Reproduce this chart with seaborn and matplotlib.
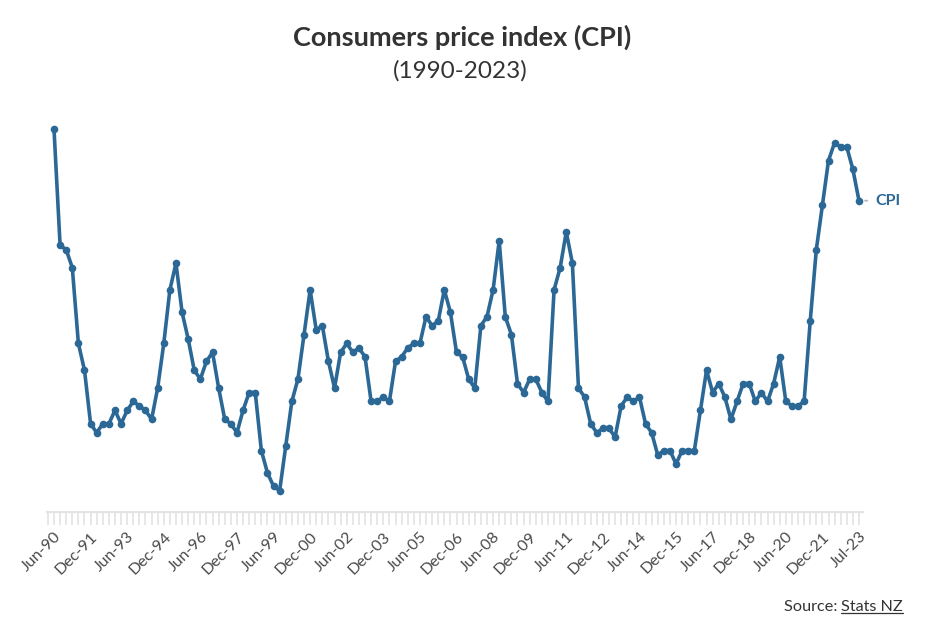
import matplotlib
matplotlib.use("Agg")
import matplotlib.pyplot as plt
from matplotlib.lines import Line2D
from matplotlib.ticker import MultipleLocator, FixedLocator, FixedFormatter
import seaborn as sns
import pandas as pd

# Annual % change in CPI, quarterly, Jun-1990 .. Jun-2023
cpi = [7.6, 5.0, 4.9, 4.5, 2.8, 2.2, 1.0, 0.8, 1.0, 1.0, 1.3, 1.0, 1.3, 1.5, 1.4, 1.3,
       1.1, 1.8, 2.8, 4.0, 4.6, 3.5, 2.9, 2.2, 2.0, 2.4, 2.6, 1.8, 1.1, 1.0, 0.8, 1.3,
       1.7, 1.7, 0.4, -0.1, -0.4, -0.5, 0.5, 1.5, 2.0, 3.0, 4.0, 3.1, 3.2, 2.4, 1.8, 2.6,
       2.8, 2.6, 2.7, 2.5, 1.5, 1.5, 1.6, 1.5, 2.4, 2.5, 2.7, 2.8, 2.8, 3.4, 3.2, 3.3,
       4.0, 3.5, 2.6, 2.5, 2.0, 1.8, 3.2, 3.4, 4.0, 5.1, 3.4, 3.0, 1.9, 1.7, 2.0, 2.0,
       1.7, 1.5, 4.0, 4.5, 5.3, 4.6, 1.8, 1.6, 1.0, 0.8, 0.9, 0.9, 0.7, 1.4, 1.6, 1.5,
       1.6, 1.0, 0.8, 0.3, 0.4, 0.4, 0.1, 0.4, 0.4, 0.4, 1.3, 2.2, 1.7, 1.9, 1.6, 1.1,
       1.5, 1.9, 1.9, 1.5, 1.7, 1.5, 1.9, 2.5, 1.5, 1.4, 1.4, 1.5, 3.3, 4.9, 5.9, 6.9,
       7.3, 7.2, 7.2, 6.7, 6.0]

tick_labels = ["Jun-90", "Dec-91", "Jun-93", "Dec-94", "Jun-96", "Dec-97", "Jun-99",
               "Dec-00", "Jun-02", "Dec-03", "Jun-05", "Dec-06", "Jun-08", "Dec-09",
               "Jun-11", "Dec-12", "Jun-14", "Dec-15", "Jun-17", "Dec-18", "Jun-20",
               "Dec-21", "Jul-23"]
tick_step = 6  # one label every six quarters

series_name = "CPI"
title = "Consumers price index (CPI)"
subtitle = "(1990-2023)"

BLUE = "#2b6896"
TEXT = "#333333"
GRID = "#e3e3e3"

sns.set_theme(style="white")
plt.rcParams["font.family"] = ["Lato", "DejaVu Sans"]

df = pd.DataFrame({"t": range(len(cpi)), series_name: cpi})

fig = plt.figure(figsize=(9.25, 6.33), dpi=100)
ax = fig.add_axes([47 / 925, 1 - 512 / 633, 816 / 925, (512 - 110) / 633])

sns.lineplot(data=df, x="t", y=series_name, ax=ax, color=BLUE, linewidth=2.6,
             marker="o", markersize=5.5, markeredgewidth=0, legend=False)

px_per_q = 805 / (len(cpi) - 1)
ax.set_xlim(-7 / px_per_q, len(cpi) - 1 + 4 / px_per_q)
px_per_unit = 44.62
zero_px = 468.4
ax.set_ylim((zero_px - 512) / px_per_unit, (zero_px - 110) / px_per_unit)

ax.set_xlabel("")
ax.set_ylabel("")
ax.set_yticks([])
for s in ["top", "right", "left"]:
    ax.spines[s].set_visible(False)
ax.spines["bottom"].set_color(GRID)
ax.spines["bottom"].set_linewidth(1.5)

ticks = list(range(0, len(cpi), tick_step))
ax.xaxis.set_major_locator(FixedLocator(ticks))
ax.xaxis.set_major_formatter(FixedFormatter(tick_labels))
ax.xaxis.set_minor_locator(MultipleLocator(1))
ax.tick_params(axis="x", which="both", bottom=True, direction="out", length=9.5,
               width=1.2, color=GRID, pad=3)
ax.tick_params(axis="x", which="major", labelsize=11.5, labelcolor="#4a4a4a")
for lab in ax.get_xticklabels():
    lab.set_rotation(45)
    lab.set_ha("right")
    lab.set_rotation_mode("anchor")

# end label with short connector dash
last_x = len(cpi) - 1
last_y = cpi[-1]
ax.annotate(series_name, xy=(last_x, last_y), xycoords="data",
            xytext=(11.5, 0), textcoords="offset points",
            ha="left", va="center", fontsize=11.5, fontweight="bold", color=BLUE,
            annotation_clip=False,
            arrowprops=dict(arrowstyle="-", color="#b5b5b5", lw=1.3,
                            shrinkA=3.2, shrinkB=4.3, relpos=(0, 0.5)))

fig.text(462 / 925, 1 - 37 / 633, title, ha="center", va="center",
         fontsize=19.5, fontweight="bold", color=TEXT)
fig.text(460 / 925, 1 - 71 / 633, subtitle, ha="center", va="center",
         fontsize=17.5, color=TEXT)

# Source with underlined link text
renderer = fig.canvas.get_renderer()
t2 = fig.text(903 / 925, 1 - 607 / 633, "Stats NZ", ha="right", va="center",
              fontsize=11.7, color=TEXT)
bb = t2.get_window_extent(renderer)
fig.text(bb.x0 / 925, 1 - 607 / 633, "Source: ", ha="right", va="center",
         fontsize=11.7, color=TEXT)
fig.add_artist(Line2D([bb.x0 / 925, bb.x1 / 925], [(bb.y0 + 1) / 633] * 2,
                      transform=fig.transFigure, color=TEXT, lw=0.9))

fig.savefig("out.png", dpi=100, facecolor="white")
